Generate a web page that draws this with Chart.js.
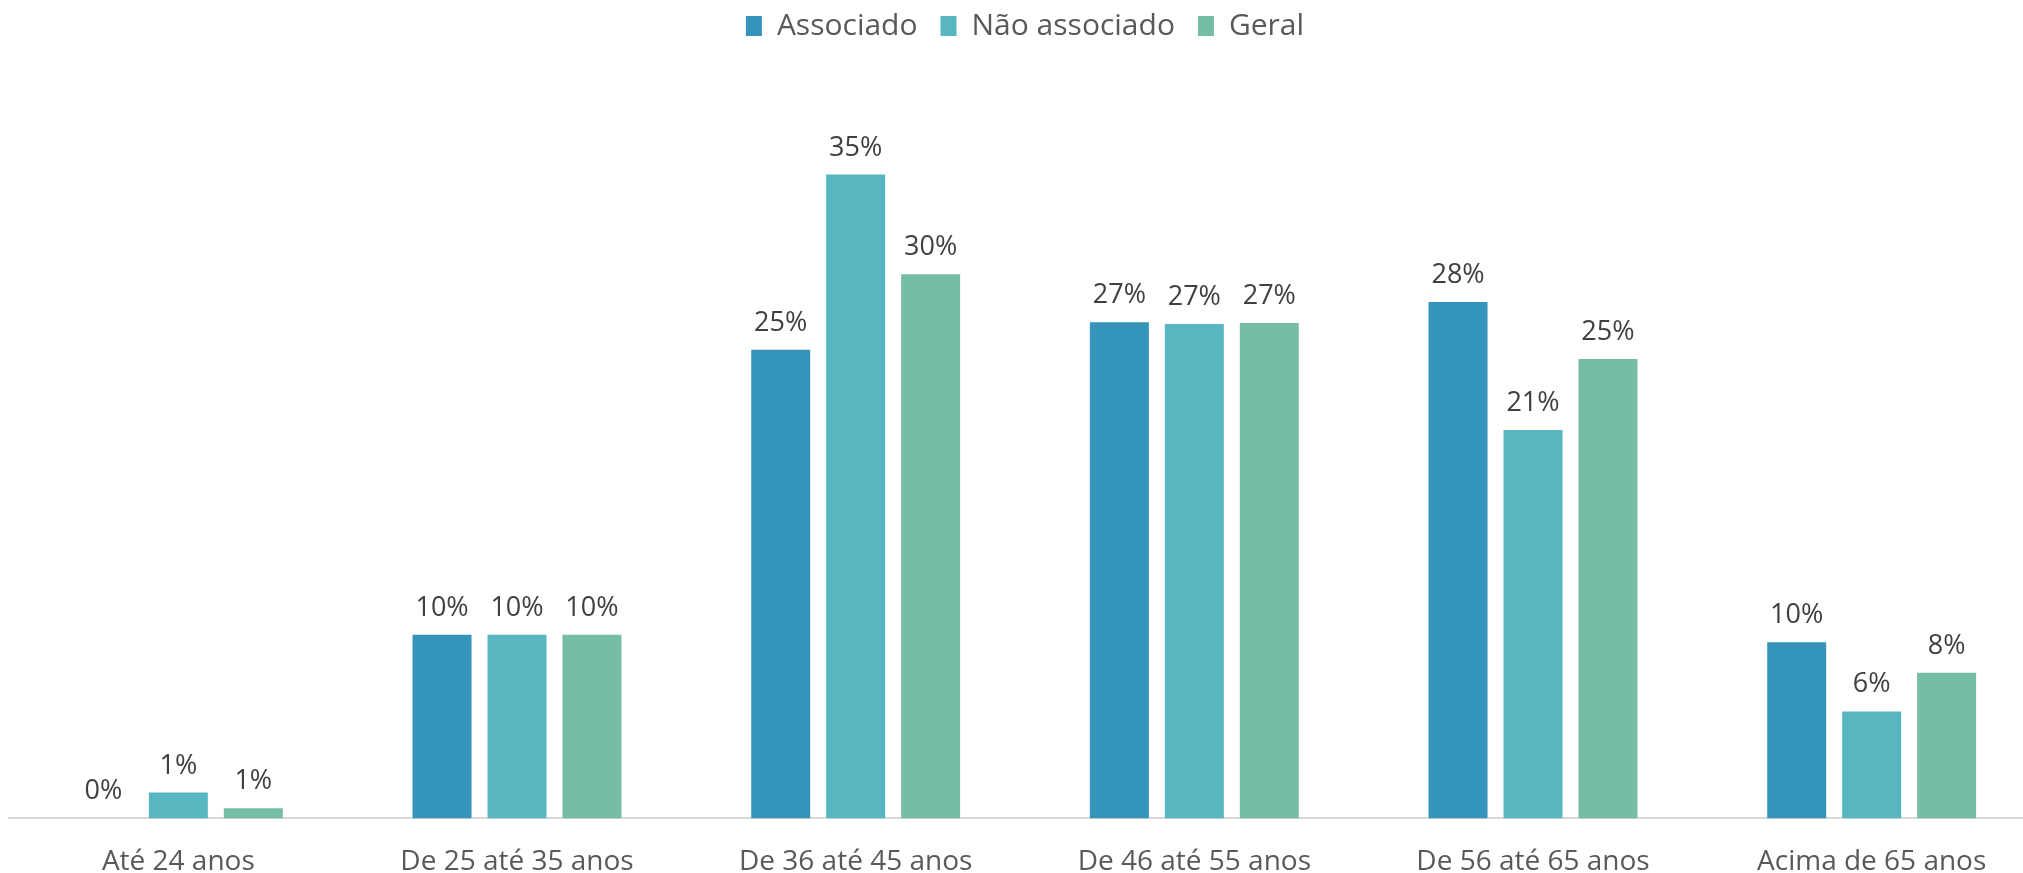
<!DOCTYPE html>
<html>
<head>
<meta charset="utf-8">
<script src="https://cdn.jsdelivr.net/npm/chart.js"></script>
<style>
  html, body { margin: 0; padding: 0; background: #fff; overflow: hidden; }
  #wrap { width: 2064px; height: 918px; margin-top: -12px; }
</style>
</head>
<body>
<div id="wrap"><canvas id="chartBar"></canvas></div>
<script>
// data
const categories = ["Até 24 anos", "De 25 até 35 anos", "De 36 até 45 anos", "De 46 até 55 anos", "De 56 até 65 anos", "Acima de 65 anos"];
const associado = [0, 9.96, 25.4, 26.9, 28.0, 9.55];
const naoAssociado = [1.4, 9.95, 34.9, 26.8, 21.05, 5.8];
const geral = [0.55, 9.95, 29.5, 26.85, 24.9, 7.9];

const FONT = "'Open Sans', 'Noto Sans', sans-serif";

// draws the "xx%" labels above each bar
const barLabels = {
  id: "barLabels",
  afterDatasetsDraw(chart) {
    const ctx = chart.ctx;
    ctx.save();
    ctx.font = "27px " + FONT;
    ctx.fillStyle = "#404040";
    ctx.textAlign = "center";
    ctx.textBaseline = "alphabetic";
    chart.data.datasets.forEach((ds, i) => {
      const meta = chart.getDatasetMeta(i);
      meta.data.forEach((bar, j) => {
        ctx.fillText(Math.round(ds.data[j]) + "%", bar.x, bar.y - 19);
      });
    });
    ctx.restore();
  }
};

const data = {
  labels: categories,
  datasets: [
    { label: "Associado", data: associado, backgroundColor: "#3494BA" },
    { label: "Não associado", data: naoAssociado, backgroundColor: "#58B6C0" },
    { label: "Geral", data: geral, backgroundColor: "#75BDA7" }
  ]
};

const config = {
  type: "bar",
  data,
  options: {
    responsive: true,
    maintainAspectRatio: false,
    animation: false,
    layout: { padding: { left: 9, right: 23, top: 0, bottom: 0 } },
    datasets: { bar: { categoryPercentage: 0.664, barPercentage: 0.787 } },
    plugins: {
      legend: {
        position: "top",
        labels: {
          font: { family: FONT, size: 30 },
          color: "#595959",
          boxWidth: 16,
          boxHeight: 20,
          padding: 23
        }
      },
      tooltip: { enabled: false }
    },
    scales: {
      x: {
        grid: { display: false, drawTicks: false },
        border: { color: "#D9D9D9", width: 2 },
        ticks: { font: { family: FONT, size: 28 }, color: "#595959", padding: 27 }
      },
      y: {
        display: false,
        min: 0,
        max: 41.6
      }
    }
  },
  plugins: [barLabels]
};

new Chart(document.getElementById("chartBar"), config);
</script>
</body>
</html>
